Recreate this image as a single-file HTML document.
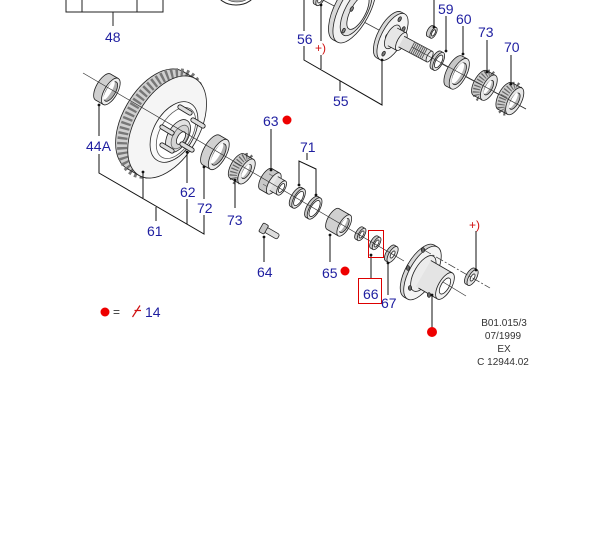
<!DOCTYPE html>
<html><head><meta charset="utf-8"><style>
html,body{margin:0;padding:0;background:#fff;overflow:hidden}
svg{display:block}
.l{font-family:"Liberation Sans",sans-serif;font-size:14px;fill:#1e1ea0}
.r{font-family:"Liberation Sans",sans-serif;font-size:12px;fill:#d01010}
.f{font-family:"Liberation Sans",sans-serif;font-size:10px;fill:#333;text-anchor:middle}
</style></head><body>
<svg width="608" height="551" viewBox="0 0 608 551" xmlns="http://www.w3.org/2000/svg">
<rect width="608" height="551" fill="#fff"/>
<defs><clipPath id="c"><rect width="608" height="366"/></clipPath></defs>
<g clip-path="url(#c)">

<!-- top-left box 48 -->
<g stroke="#222" stroke-width="1" fill="none">
<path d="M66 0V12H163V0M82 0V12M137 0V12M113 12V26"/>
</g>
<!-- top partial ring -->
<ellipse cx="236" cy="-8" rx="19" ry="13" fill="#fff" stroke="#222"/>
<ellipse cx="237" cy="-9" rx="15" ry="11" fill="#aaa" stroke="#444" stroke-width="0.6"/>

<!-- ===== TOP RIGHT GROUP ===== -->
<line x1="323" y1="0" x2="526" y2="109" stroke="#333" stroke-width="0.8"/>
<g stroke="#222" stroke-width="0.8" fill="none">
<!-- small ring at top -->
<g transform="translate(318 -3) rotate(28)">
<ellipse rx="3.4" ry="8" fill="#ccc"/><rect y="-8" width="3" height="16" fill="#ccc" stroke="none"/><path d="M0-8h3M0 8h3"/>
<ellipse cx="3" rx="3.4" ry="8" fill="#e6e6e6"/><ellipse cx="3" rx="2.1" ry="5" fill="#fff"/>
</g>
<!-- backing plate -->
<g transform="translate(350 8) rotate(28)">
<ellipse rx="15" ry="36" fill="#d8d8d8"/><rect y="-36" width="5" height="72" fill="#d8d8d8" stroke="none"/><path d="M0-36h5M0 36h5"/>
<ellipse cx="5" rx="15" ry="36" fill="#f2f2f2"/>
<ellipse cx="7" rx="11" ry="27" fill="#e2e2e2"/>
<ellipse cx="9" rx="7.5" ry="19" fill="#fff"/>
<ellipse cx="5" cy="-24" rx="1.3" ry="2.5" fill="#888"/>
<ellipse cx="2" cy="0" rx="1.3" ry="2.5" fill="#888"/>
<ellipse cx="5" cy="23" rx="1.3" ry="2.5" fill="#888"/>
</g>
<!-- flange with shaft (55) -->
<g transform="translate(389 35) rotate(28)">
<ellipse rx="11" ry="26" fill="#d8d8d8"/><rect y="-26" width="4" height="52" fill="#d8d8d8" stroke="none"/><path d="M0-26h4M0 26h4"/>
<ellipse cx="4" rx="11" ry="26" fill="#f4f4f4"/>
<ellipse cx="2" cy="-19" rx="1.4" ry="2.6" fill="#777"/>
<ellipse cx="-1" cy="2" rx="1.4" ry="2.6" fill="#777"/>
<ellipse cx="4" cy="19" rx="1.4" ry="2.6" fill="#777"/>
<ellipse cx="10" cy="-12" rx="1.4" ry="2.6" fill="#777"/>
<ellipse cx="4" rx="6" ry="13" fill="#e6e6e6"/>
<rect x="4" y="-10" width="10" height="20" fill="#e6e6e6" stroke="none"/><path d="M4-10h10M4 10h10"/>
<ellipse cx="14" rx="4" ry="10" fill="#eee"/>
<rect x="14" y="-6" width="32" height="12" fill="#ddd" stroke="none"/><path d="M14-6h32M14 6h32"/>
<path d="M26-6v12M28-6v12M30-6v12M32-6v12M34-6v12M36-6v12M38-6v12M40-6v12" stroke="#555" stroke-width="0.9"/>
<ellipse cx="46" rx="2.5" ry="6" fill="#eee"/>
</g>
<!-- small cup (top) -->
<g transform="translate(430 31) rotate(28)">
<ellipse rx="2.6" ry="6" fill="#ccc"/><rect y="-6" width="4" height="12" fill="#ccc" stroke="none"/><path d="M0-6h4M0 6h4"/>
<ellipse cx="4" rx="2.6" ry="6" fill="#e6e6e6"/><ellipse cx="4" rx="1.5" ry="3.5" fill="#fff"/>
</g>
<!-- 59 ring -->
<g transform="translate(436 60) rotate(28)">
<ellipse rx="4.2" ry="10" fill="#ccc"/><rect y="-10" width="3" height="20" fill="#ccc" stroke="none"/><path d="M0-10h3M0 10h3"/>
<ellipse cx="3" rx="4.2" ry="10" fill="#e8e8e8"/><ellipse cx="3" rx="3" ry="7" fill="#fff"/>
</g>
<!-- 60 ring -->
<g transform="translate(454 71) rotate(28)">
<ellipse rx="7" ry="17" fill="#c8c8c8"/><rect y="-17" width="6" height="34" fill="#c8c8c8" stroke="none"/><path d="M0-17h6M0 17h6"/>
<ellipse cx="6" rx="7" ry="17" fill="#e6e6e6"/>
<ellipse cx="6" rx="5" ry="12" fill="#b8b8b8"/><ellipse cx="4.5" rx="3.5" ry="11.5" fill="#fff" stroke="none"/>
</g>
<!-- 73 top bearing -->
<g transform="translate(480 83) rotate(28)">
<ellipse rx="6" ry="14" fill="#ccc"/><rect y="-14" width="10" height="28" fill="#ccc" stroke="none"/>
<ellipse cx="5" rx="6" ry="13.5" stroke="#666" stroke-width="7" stroke-dasharray="1.2 1.8"/>
<path d="M0-14h10M0 14h10"/>
<ellipse cx="10" rx="6" ry="14" fill="#e6e6e6"/>
<ellipse cx="10" rx="3.4" ry="8" fill="#b8b8b8"/><ellipse cx="8.7" rx="2.1" ry="7.6" fill="#fff" stroke="none"/>
</g>
<!-- 70 bearing -->
<g transform="translate(505 96) rotate(28)">
<ellipse rx="6.5" ry="15" fill="#ccc"/><rect y="-15" width="11" height="30" fill="#ccc" stroke="none"/>
<ellipse cx="5.5" rx="6.5" ry="14.5" stroke="#666" stroke-width="7.5" stroke-dasharray="1.2 1.8"/>
<path d="M0-15h11M0 15h11"/>
<ellipse cx="11" rx="6.5" ry="15" fill="#e6e6e6"/>
<ellipse cx="11" rx="3.8" ry="9" fill="#b8b8b8"/><ellipse cx="9.5" rx="2.3" ry="8.6" fill="#fff" stroke="none"/>
</g>
</g>
<line x1="412" y1="47" x2="526" y2="109" stroke="#333" stroke-width="0.7"/>

<!-- ===== LOWER GROUP ===== -->
<g stroke="#222" stroke-width="0.8" fill="none">
<!-- 44A seal -->
<g transform="translate(103 87) rotate(30)">
<ellipse rx="6.5" ry="15" fill="#cfcfcf"/><rect y="-15" width="9" height="30" fill="#cfcfcf" stroke="none"/><path d="M0-15h9M0 15h9"/>
<ellipse cx="9" rx="6.5" ry="15" fill="#ececec"/>
<ellipse cx="9" rx="4.6" ry="11" fill="#b0b0b0"/><ellipse cx="7" rx="2.6" ry="10.5" fill="#fff" stroke="none"/>
</g>
<!-- disc -->
<g transform="translate(155 120) rotate(30)">
<ellipse rx="32" ry="56" fill="#d0d0d0"/><rect y="-56" width="14" height="112" fill="#d0d0d0" stroke="none"/>
<ellipse cx="7" rx="32" ry="55" stroke="#777" stroke-width="10" stroke-dasharray="2.4 2.6"/>
<path d="M0-56h14M0 56h14"/>
<ellipse cx="14" rx="32" ry="56" fill="#f5f5f5"/>
</g>
<ellipse cx="0" cy="0" rx="20" ry="33" transform="translate(174 132) rotate(30)" fill="#fafafa"/>
<ellipse cx="0" cy="0" rx="16" ry="28" transform="translate(176 133) rotate(30)" fill="#fff" stroke="#555"/>
<ellipse cx="0" cy="0" rx="10" ry="18" transform="translate(178 136) rotate(30)" fill="#e2e2e2"/>
<ellipse cx="0" cy="0" rx="7" ry="13" transform="translate(180 137) rotate(30)" fill="#d4d4d4" stroke="#666"/>
<ellipse cx="0" cy="0" rx="3.5" ry="7" transform="translate(181 138) rotate(30)" fill="#fff"/>
<!-- studs -->
<g stroke="#222" stroke-width="5.2" stroke-linecap="round">
<line x1="180" y1="107" x2="190" y2="113"/><line x1="193" y1="120" x2="203" y2="126"/>
<line x1="162" y1="127" x2="172" y2="133"/><line x1="162" y1="145" x2="172" y2="151"/>
<line x1="182" y1="144" x2="192" y2="150"/>
</g>
<g stroke="#ddd" stroke-width="3.4" stroke-linecap="round">
<line x1="180" y1="107" x2="190" y2="113"/><line x1="193" y1="120" x2="203" y2="126"/>
<line x1="162" y1="127" x2="172" y2="133"/><line x1="162" y1="145" x2="172" y2="151"/>
<line x1="182" y1="144" x2="192" y2="150"/>
</g>
<!-- 72 ring -->
<g transform="translate(211 150) rotate(30)">
<ellipse rx="7" ry="17" fill="#d0d0d0"/><rect y="-17" width="9" height="34" fill="#d0d0d0" stroke="none"/><path d="M0-17h9M0 17h9"/>
<ellipse cx="9" rx="7" ry="17" fill="#ececec"/>
<ellipse cx="9" rx="5" ry="12" fill="#b0b0b0"/><ellipse cx="7" rx="3" ry="11.5" fill="#fff" stroke="none"/>
</g>
<!-- 73 mid bearing -->
<g transform="translate(237 166) rotate(30)">
<ellipse rx="6" ry="14" fill="#ccc"/><rect y="-14" width="11" height="28" fill="#ccc" stroke="none"/>
<ellipse cx="5.5" rx="6" ry="13.5" stroke="#666" stroke-width="7.5" stroke-dasharray="1.2 1.8"/>
<path d="M0-14h11M0 14h11"/>
<ellipse cx="11" rx="6" ry="14" fill="#e6e6e6"/>
<ellipse cx="11" rx="3.4" ry="8" fill="#b8b8b8"/><ellipse cx="9.7" rx="2.1" ry="7.6" fill="#fff" stroke="none"/>
</g>
<!-- 63 nut -->
<g transform="translate(266 179) rotate(30)">
<ellipse rx="5" ry="12" fill="#c8c8c8"/><rect y="-12" width="9" height="24" fill="#c8c8c8" stroke="none"/>
<path d="M0-12h9M0 12h9"/><path d="M0-6h9M0 6h9" stroke="#666"/>
<ellipse cx="9" rx="5" ry="12" fill="#e8e8e8"/>
<rect x="9" y="-8" width="9" height="16" fill="#dcdcdc" stroke="none"/><path d="M9-8h9M9 8h9"/>
<ellipse cx="18" rx="3.5" ry="8" fill="#eee"/><ellipse cx="18" rx="2.2" ry="5" fill="#fff"/>
</g>
<!-- 71 rings -->
<g transform="translate(296 197) rotate(30)">
<ellipse rx="4.6" ry="11" fill="#c8c8c8"/><rect y="-11" width="3" height="22" fill="#c8c8c8" stroke="none"/><path d="M0-11h3M0 11h3"/>
<ellipse cx="3" rx="4.6" ry="11" fill="#e4e4e4"/><ellipse cx="3" rx="3.4" ry="8" fill="#fff"/>
</g>
<g transform="translate(312 207) rotate(30)">
<ellipse rx="5" ry="12" fill="#c8c8c8"/><rect y="-12" width="3" height="24" fill="#c8c8c8" stroke="none"/><path d="M0-12h3M0 12h3"/>
<ellipse cx="3" rx="5" ry="12" fill="#e4e4e4"/><ellipse cx="3" rx="3.8" ry="9" fill="#fff"/>
</g>
<!-- 64 pin -->
<g transform="translate(268 231) rotate(30)">
<rect x="-3" y="-2.8" width="15" height="5.6" rx="2" fill="#ddd"/>
<rect x="-8" y="-5" width="6" height="10" rx="1.5" fill="#c8c8c8"/>
</g>
<!-- 65 sleeve -->
<g transform="translate(333 219) rotate(30)">
<ellipse rx="5" ry="12" fill="#d0d0d0"/><rect y="-12" width="13" height="24" fill="#d0d0d0" stroke="none"/><path d="M0-12h13M0 12h13"/>
<ellipse cx="13" rx="5" ry="12" fill="#ececec"/>
<ellipse cx="13" rx="3.4" ry="8" fill="#b0b0b0"/><ellipse cx="11.5" rx="1.9" ry="7.6" fill="#fff" stroke="none"/>
</g>
<!-- small rings -->
<g transform="translate(359 233) rotate(30)">
<ellipse rx="3" ry="7" fill="#c8c8c8"/><rect y="-7" width="3" height="14" fill="#c8c8c8" stroke="none"/><path d="M0-7h3M0 7h3"/>
<ellipse cx="3" rx="3" ry="7" fill="#e4e4e4"/><ellipse cx="3" rx="1.7" ry="4" fill="#fff"/>
</g>
<g transform="translate(374 242) rotate(30)">
<ellipse rx="3" ry="7" fill="#c8c8c8"/><rect y="-7" width="3" height="14" fill="#c8c8c8" stroke="none"/><path d="M0-7h3M0 7h3"/>
<ellipse cx="3" rx="3" ry="7" fill="#e4e4e4"/><ellipse cx="3" rx="1.7" ry="4" fill="#fff"/>
</g>
<g transform="translate(390 253) rotate(30)">
<ellipse rx="3.8" ry="9" fill="#c8c8c8"/><rect y="-9" width="3" height="18" fill="#c8c8c8" stroke="none"/><path d="M0-9h3M0 9h3"/>
<ellipse cx="3" rx="3.8" ry="9" fill="#e4e4e4"/><ellipse cx="3" rx="1.7" ry="4" fill="#fff"/>
</g>
</g>
<!-- main lower axis -->
<line x1="83" y1="73" x2="404" y2="261" stroke="#333" stroke-width="0.7"/>
<g stroke="#222" stroke-width="0.8" fill="none">
<!-- hub -->
<g transform="translate(419 271) rotate(30)">
<ellipse rx="13" ry="30" fill="#d8d8d8"/><rect y="-30" width="4" height="60" fill="#d8d8d8" stroke="none"/><path d="M0-30h4M0 30h4"/>
<ellipse cx="4" rx="13" ry="30" fill="#f4f4f4"/>
<ellipse cx="5" rx="9" ry="20" fill="#ececec"/>
<rect x="5" y="-15" width="25" height="30" fill="#e4e4e4" stroke="none"/><path d="M5-15h25M8 15h22"/>
<ellipse cx="30" rx="6.5" ry="15" fill="#f0f0f0"/>
<ellipse cx="30" rx="4" ry="9" fill="#fff"/>
</g>
<ellipse cx="423" cy="250" rx="1.6" ry="2.4" fill="#666"/>
<ellipse cx="408" cy="268" rx="1.6" ry="2.4" fill="#666"/>
<ellipse cx="410" cy="288" rx="1.6" ry="2.4" fill="#666"/>
<ellipse cx="429" cy="295" rx="1.6" ry="2.4" fill="#666"/>
<!-- right small ring +) -->
<g transform="translate(470 276) rotate(30)">
<ellipse rx="3.8" ry="9" fill="#c8c8c8"/><rect y="-9" width="3" height="18" fill="#c8c8c8" stroke="none"/><path d="M0-9h3M0 9h3"/>
<ellipse cx="3" rx="3.8" ry="9" fill="#e4e4e4"/><ellipse cx="3" rx="1.7" ry="4" fill="#fff"/>
</g>
</g>
<g stroke="#333" stroke-width="0.7">
<line x1="424" y1="250" x2="490" y2="288" stroke-dasharray="8 2 2 2"/>
<line x1="443" y1="282" x2="466" y2="296"/>
</g>

<!-- ===== LEADER LINES ===== -->
<g stroke="#111" stroke-width="1" fill="none">
<path d="M304 0V31M304 46V60L382 105V60"/>
<path d="M321 5V41M321 55V69"/>
<path d="M340 81V91"/>
<path d="M434 0V27M446 16V51M463 26V54M487 40V72M511 55V84"/>
<path d="M99 105V136M99 154V173L204 234V215M204 199V167"/>
<path d="M143 172V198M187 152V183M187 199V224M156 207V221"/>
<path d="M235 180V208M271 129V170"/>
<path d="M307 153V160M299 185V161L316 169V195"/>
<path d="M264 237V262M330 235V262M371 255V278M388 263V295M432 295V328M476 231V270"/>
</g>
<g fill="#111">
<circle cx="382" cy="60" r="1.4"/><circle cx="434" cy="27" r="1.4"/><circle cx="446" cy="51" r="1.4"/>
<circle cx="463" cy="54" r="1.4"/><circle cx="487" cy="72" r="1.4"/><circle cx="511" cy="84" r="1.4"/>
<circle cx="99" cy="105" r="1.4"/><circle cx="143" cy="172" r="1.4"/><circle cx="187" cy="152" r="1.4"/>
<circle cx="204" cy="167" r="1.4"/><circle cx="235" cy="180" r="1.4"/><circle cx="271" cy="170" r="1.4"/>
<circle cx="299" cy="185" r="1.4"/><circle cx="316" cy="195" r="1.4"/><circle cx="264" cy="237" r="1.4"/>
<circle cx="330" cy="235" r="1.4"/><circle cx="371" cy="255" r="1.4"/><circle cx="388" cy="263" r="1.4"/>
<circle cx="432" cy="295" r="1.4"/><circle cx="476" cy="270" r="1.4"/><circle cx="321" cy="5" r="1.4"/>
</g>

<!-- red boxes -->
<rect x="368.5" y="230.5" width="15" height="27" fill="none" stroke="#d00" stroke-width="1"/>
<rect x="358.5" y="278.5" width="23" height="25" fill="none" stroke="#d00" stroke-width="1"/>

<!-- red dots -->
<circle cx="287" cy="120" r="4.5" fill="#e00"/>
<circle cx="345" cy="271" r="4.5" fill="#e00"/>
<circle cx="432" cy="332" r="5" fill="#e00"/>
<circle cx="105" cy="312" r="4.5" fill="#e00"/>

<!-- labels -->
<text class="l" x="105" y="42">48</text>
<text class="l" x="297" y="44">56</text>
<text class="r" x="315" y="52">+)</text>
<text class="l" x="333" y="106">55</text>
<text class="l" x="438" y="14">59</text>
<text class="l" x="456" y="24">60</text>
<text class="l" x="478" y="37">73</text>
<text class="l" x="504" y="52">70</text>
<text class="l" x="263" y="126">63</text>
<text class="l" x="300" y="152">71</text>
<text class="l" x="86" y="151">44A</text>
<text class="l" x="180" y="197">62</text>
<text class="l" x="197" y="213">72</text>
<text class="l" x="147" y="236">61</text>
<text class="l" x="227" y="225">73</text>
<text class="l" x="257" y="277">64</text>
<text class="l" x="322" y="278">65</text>
<text class="l" x="363" y="299">66</text>
<text class="l" x="381" y="308">67</text>
<text class="r" x="469" y="229">+)</text>

<!-- legend -->
<text x="113" y="316" font-family="Liberation Sans,sans-serif" font-size="12" fill="#333">=</text>
<path d="M132.5 317L140 305.5M134.5 310.5H141" stroke="#d01010" stroke-width="1.2" fill="none"/>
<text class="l" x="145" y="317">14</text>

<!-- footer -->
<text class="f" x="504" y="326">B01.015/3</text>
<text class="f" x="503" y="339">07/1999</text>
<text class="f" x="504" y="352">EX</text>
<text class="f" x="503" y="365">C 12944.02</text>
</g>
</svg>
</body></html>
